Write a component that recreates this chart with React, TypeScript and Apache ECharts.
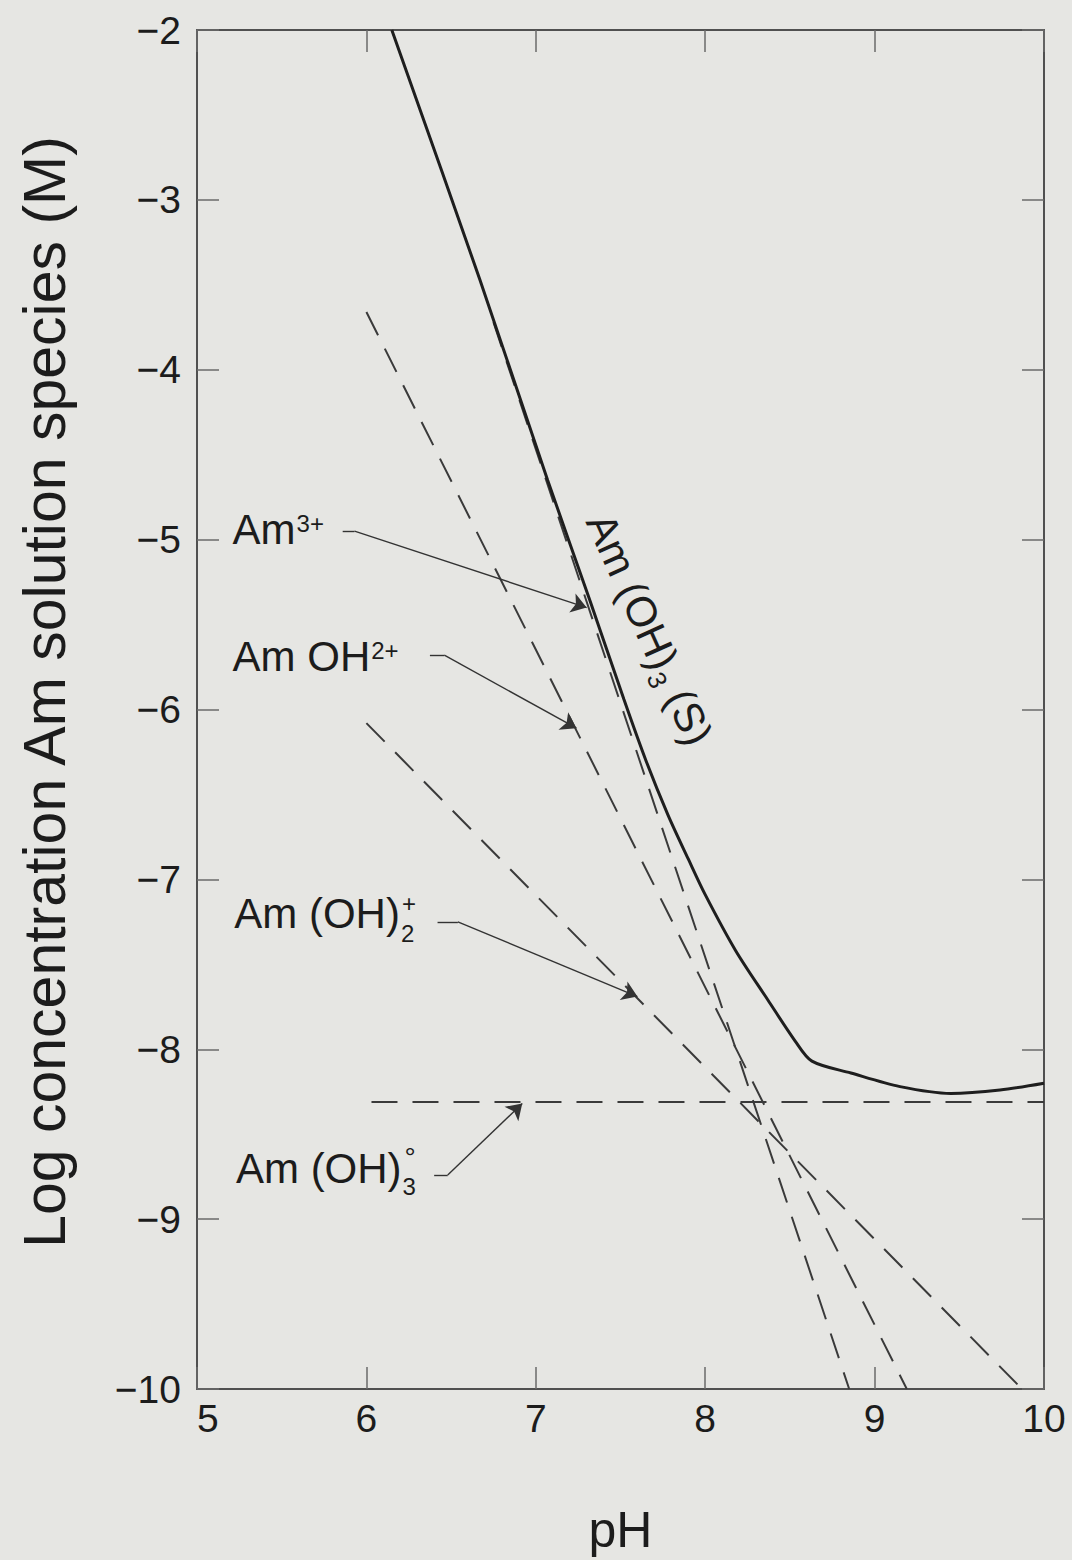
import React, { useEffect, useRef } from "react";
import * as echarts from "echarts";

// ---- axis ticks ----
const X_TICKS = [5, 6, 7, 8, 9, 10];
const Y_TICKS = [-10, -9, -8, -7, -6, -5, -4, -3, -2];

// ---- total solubility, Am(OH)3 (S) (solid curve) ----
const SOLID_PH = [6.15, 6.67, 7.07, 7.32, 7.52, 7.65, 7.78, 7.9, 8.0, 8.18, 8.37, 8.53, 8.63, 8.86, 9.15, 9.45, 9.74, 10.0];
const SOLID_LOG = [-2.0, -3.47, -4.65, -5.36, -5.94, -6.3, -6.62, -6.88, -7.09, -7.42, -7.71, -7.95, -8.07, -8.14, -8.22, -8.26, -8.24, -8.2];

// ---- individual species (dashed lines), end points ----
const AM3_PH = [6.75, 8.85];
const AM3_LOG = [-3.72, -10.0];
const AMOH_PH = [6.0, 9.19];
const AMOH_LOG = [-3.66, -10.0];
const AMOH2_PH = [6.0, 9.87];
const AMOH2_LOG = [-6.08, -10.0];
const AMOH3_PH = [6.03, 10.0];
const AMOH3_LOG = [-8.31, -8.31];

// ---- annotation arrows (start, knee, tip) in data coordinates ----
const ARROW_AM3 = [[5.86, -4.95], [5.93, -4.95], [7.3, -5.4]];
const ARROW_AMOH = [[6.375, -5.68], [6.46, -5.68], [7.24, -6.11]];
const ARROW_AMOH2 = [[6.42, -7.25], [6.54, -7.25], [7.6, -7.69]];
const ARROW_AMOH3 = [[6.4, -8.74], [6.48, -8.74], [6.92, -8.32]];

// ---- label anchors (left edge, middle) ----
const LABEL_AM3 = [5.21, -4.94];
const LABEL_AMOH = [5.21, -5.69];
const LABEL_AMOH2 = [5.22, -7.2];
const LABEL_AMOH3 = [5.23, -8.7];
const LABEL_SOLID = [7.37, -4.86];

const FONT = '"Liberation Sans", Arial, Helvetica, sans-serif';
const INK = "#1c1c1c";
const BG = "#e6e6e3";

const zip = (a: number[], b: number[]) => a.map((v, i) => [v, b[i]]);

export default function App() {
  const ref = useRef<HTMLDivElement>(null);
  useEffect(() => {
    if (!ref.current) return;
    const chart = echarts.init(ref.current, null, { renderer: "svg" });
    const dash = { color: "#3a3a3a", width: 2, type: [26, 15] as any };
    const axisCommon = {
      type: "value" as const,
      axisLine: { show: true, lineStyle: { color: "#505050", width: 2 } },
      axisTick: { show: true, inside: true, length: 22, lineStyle: { color: "#6a6a6a", width: 1.5 } },
      splitLine: { show: false },
    };
    const option: any = {
      animation: false,
      backgroundColor: BG,
      grid: { left: 197, top: 30, width: 847, height: 1359 },
      xAxis: [
        {
          ...axisCommon,
          position: "bottom",
          min: X_TICKS[0],
          max: X_TICKS[X_TICKS.length - 1],
          interval: 1,
          axisLabel: { fontSize: 39, color: INK, fontFamily: FONT, margin: 10, alignMinLabel: "left" },
          name: "pH",
          nameLocation: "middle",
          nameGap: 116,
          nameTextStyle: { fontSize: 50, color: INK, fontFamily: FONT },
        },
        {
          ...axisCommon,
          position: "top",
          min: X_TICKS[0],
          max: X_TICKS[X_TICKS.length - 1],
          interval: 1,
          axisLabel: { show: false },
        },
      ],
      yAxis: [
        {
          ...axisCommon,
          position: "left",
          min: Y_TICKS[0],
          max: Y_TICKS[Y_TICKS.length - 1],
          interval: 1,
          axisLabel: {
            fontSize: 39,
            color: INK,
            fontFamily: FONT,
            margin: 16,
            formatter: (v: number) => (v < 0 ? "\u2212" + Math.abs(v) : String(v)),
          },
        },
        {
          ...axisCommon,
          position: "right",
          min: Y_TICKS[0],
          max: Y_TICKS[Y_TICKS.length - 1],
          interval: 1,
          axisLabel: { show: false },
        },
      ],
      series: [
        {
          type: "line",
          name: "Am(OH)3 (S)",
          data: zip(SOLID_PH, SOLID_LOG),
          showSymbol: false,
          smooth: 0.3,
          lineStyle: { color: "#1e1e1e", width: 3 },
          z: 5,
        },
        { type: "line", name: "Am3+", data: zip(AM3_PH, AM3_LOG), showSymbol: false, lineStyle: dash },
        { type: "line", name: "AmOH2+", data: zip(AMOH_PH, AMOH_LOG), showSymbol: false, lineStyle: dash },
        { type: "line", name: "Am(OH)2+", data: zip(AMOH2_PH, AMOH2_LOG), showSymbol: false, lineStyle: dash },
        { type: "line", name: "Am(OH)3", data: zip(AMOH3_PH, AMOH3_LOG), showSymbol: false, lineStyle: dash },
        {
          type: "lines",
          coordinateSystem: "cartesian2d",
          symbol: ["none", "none"],
          lineStyle: { color: "#333", width: 1.4, opacity: 1 },
          data: [ARROW_AM3, ARROW_AMOH, ARROW_AMOH2, ARROW_AMOH3].map((a) => ({ coords: [a[0], a[1]] })),
          z: 6,
        },
        {
          type: "lines",
          coordinateSystem: "cartesian2d",
          symbol: ["none", "arrow"],
          symbolSize: 15,
          lineStyle: { color: "#333", width: 1.4, opacity: 1 },
          itemStyle: { color: "#222" },
          data: [ARROW_AM3, ARROW_AMOH, ARROW_AMOH2, ARROW_AMOH3].map((a) => ({ coords: [a[1], a[2]] })),
          z: 6,
        },
      ],
    };
    chart.setOption(option);

    const ctx = document.createElement("canvas").getContext("2d")!;
    const tw = (t: string, s: number) => {
      ctx.font = `${s}px ${FONT}`;
      return ctx.measureText(t).width;
    };
    const mk = (x: number, y: number, text: string, size: number) => ({
      type: "text",
      x,
      y,
      silent: true,
      style: {
        text,
        fontSize: size,
        fontFamily: FONT,
        fill: INK,
        align: "left",
        verticalAlign: "middle",
        textAlign: "left",
        textVerticalAlign: "middle",
      },
    });
    const px = (p: number[]) => chart.convertToPixel({ seriesIndex: 0 }, p) as number[];
    const M = 42;
    const S = 24;
    const g: any[] = [];

    {
      const [x, y] = px(LABEL_AM3);
      g.push(mk(x, y, "Am", M), mk(x + tw("Am", M) + 1, y - 6, "3+", S));
    }
    {
      const [x, y] = px(LABEL_AMOH);
      g.push(mk(x, y, "Am OH", M), mk(x + tw("Am OH", M) + 1, y - 6, "2+", S));
    }
    {
      const [x, y] = px(LABEL_AMOH2);
      const w = tw("Am (OH)", M);
      g.push(mk(x, y, "Am (OH)", M), mk(x + w + 1, y + 20, "2", S), mk(x + w + 2, y - 10, "+", S));
    }
    {
      const [x, y] = px(LABEL_AMOH3);
      const w = tw("Am (OH)", M);
      g.push(mk(x, y, "Am (OH)", M), mk(x + w + 1, y + 18, "3", S), mk(x + w + 3, y - 11, "\u00b0", 28));
    }
    {
      const [x, y] = px(LABEL_SOLID);
      const w = tw("Am (OH)", M);
      const w3 = tw("3", 26);
      g.push({
        type: "group",
        x,
        y,
        rotation: -1.147,
        children: [
          mk(0, 0, "Am (OH)", M),
          mk(w + 1, 14, "3", 26),
          mk(w + 1 + w3 + tw(" ", M), 0, "(S)", M),
        ],
      });
    }
    g.push({
      type: "text",
      x: 45,
      y: 692,
      rotation: Math.PI / 2,
      silent: true,
      style: {
        text: "Log concentration Am solution species (M)",
        fontSize: 59,
        fontFamily: FONT,
        fill: INK,
        align: "center",
        verticalAlign: "middle",
        textAlign: "center",
        textVerticalAlign: "middle",
      },
    });
    chart.setOption({ graphic: g });

    return () => chart.dispose();
  }, []);

  return (
    <div
      ref={ref}
      style={{ position: "absolute", left: 0, top: 0, width: 1072, height: 1560, background: BG }}
    />
  );
}
